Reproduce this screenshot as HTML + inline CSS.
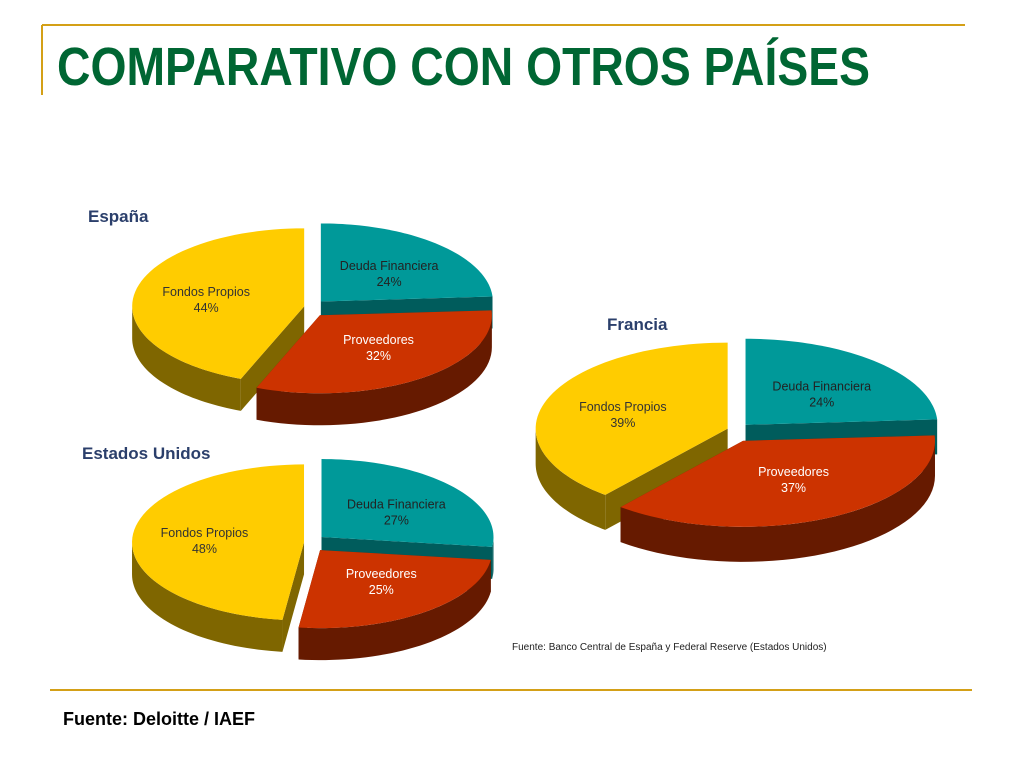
<!DOCTYPE html>
<html><head><meta charset="utf-8">
<style>
html,body{margin:0;padding:0;background:#fff;}
body{width:1024px;height:768px;overflow:hidden;font-family:"Liberation Sans",sans-serif;}
</style></head>
<body>
<svg width="1024" height="768" viewBox="0 0 1024 768">
  <line x1="42" y1="25" x2="965" y2="25" stroke="#d4a017" stroke-width="2"/>
  <line x1="42" y1="25" x2="42" y2="95" stroke="#d4a017" stroke-width="2"/>
  <text x="57" y="85" font-family="Liberation Sans, sans-serif" font-weight="bold" font-size="54" fill="#006633" textLength="813" lengthAdjust="spacingAndGlyphs">COMPARATIVO CON OTROS PAÍSES</text>
  <g id="charts"></g>
  <text x="88" y="222" font-size="17" font-weight="bold" fill="#2b3f6b">España</text>
  <text x="607" y="330" font-size="17" font-weight="bold" fill="#2b3f6b">Francia</text>
  <text x="82" y="459" font-size="17" font-weight="bold" fill="#2b3f6b">Estados Unidos</text>
  <text x="512" y="650" font-size="10" fill="#222">Fuente: Banco Central de España y Federal Reserve (Estados Unidos)</text>
  <line x1="50" y1="690" x2="972" y2="690" stroke="#d4a017" stroke-width="2"/>
  <text x="63" y="725" font-size="18" font-weight="bold" fill="#000">Fuente: Deloitte / IAEF</text>
</svg>
<script>
const sliceNames = ["Deuda Financiera","Proveedores","Fondos Propios"];
const espanaValues = [24,32,44];
const franciaValues = [24,37,39];
const eeuuValues = [27,25,48];

const topColors = ["#009999","#cc3300","#ffcc00"];
const sideColors = ["#005c5c","#661a00","#7f6600"];
const labelColors = ["#222","#fff","#333"];

const pies = [
  {name:"espana", values:espanaValues, cx:314, cy:308, rx:172, ry:78, depth:32, ex:10},
  {name:"francia", values:franciaValues, cx:738, cy:432, rx:192, ry:86, depth:35, ex:11},
  {name:"estados-unidos", values:eeuuValues, cx:314, cy:543, rx:172, ry:78, depth:32, ex:10}
];
const NS="http://www.w3.org/2000/svg";
const root=document.getElementById("charts");
function pt(p,a,dx,dy,dz){return [p.cx+dx+p.rx*Math.sin(a), p.cy+dy-p.ry*Math.cos(a)+dz];}
function mk(tag,attrs){const e=document.createElementNS(NS,tag);for(const k in attrs)e.setAttribute(k,attrs[k]);return e;}
pies.forEach(p=>{
  const g=mk("g",{});
  
  
  root.appendChild(g);
  const total=p.values.reduce((a,b)=>a+b,0);
  let start=0; const slices=[];
  p.values.forEach((v,i)=>{const a0=start/total*2*Math.PI;start+=v;const a1=start/total*2*Math.PI;slices.push({i,a0,a1,mid:(a0+a1)/2});});
  slices.sort((s,t)=>(-Math.cos(s.mid))-(-Math.cos(t.mid)));
  slices.forEach(s=>{
    const dx=p.ex*Math.sin(s.mid), dy=-p.ex*Math.cos(s.mid)*0.9;
    const sg=mk("g",{});
    
    
    g.appendChild(sg);
    const c=[p.cx+dx,p.cy+dy];
    // radial faces
    [s.a0,s.a1].forEach(a=>{
      const e=pt(p,a,dx,dy,0);
      sg.appendChild(mk("polygon",{points:`${c[0]},${c[1]} ${e[0]},${e[1]} ${e[0]},${e[1]+p.depth} ${c[0]},${c[1]+p.depth}`,fill:sideColors[s.i]}));
    });
    // outer wall on visible arc
    const lo=Math.max(s.a0,Math.PI/2), hi=Math.min(s.a1,3*Math.PI/2);
    if(hi>lo){
      let pts=[];const N=40;
      for(let k=0;k<=N;k++){const a=lo+(hi-lo)*k/N;pts.push(pt(p,a,dx,dy,0));}
      for(let k=N;k>=0;k--){const a=lo+(hi-lo)*k/N;pts.push(pt(p,a,dx,dy,p.depth));}
      sg.appendChild(mk("polygon",{points:pts.map(q=>q.join(",")).join(" "),fill:sideColors[s.i]}));
    }
    // top
    let tp=[c];const N=60;
    for(let k=0;k<=N;k++){const a=s.a0+(s.a1-s.a0)*k/N;tp.push(pt(p,a,dx,dy,0));}
    sg.appendChild(mk("polygon",{points:tp.map(q=>q.join(",")).join(" "),fill:topColors[s.i]}));
    // label
    const lp=[c[0]+p.rx*0.58*Math.sin(s.mid), c[1]-p.ry*0.5*Math.cos(s.mid)];
    const t1=mk("text",{x:lp[0],y:lp[1]-3,"text-anchor":"middle","font-size":"12.5",fill:labelColors[s.i]});
    t1.textContent=sliceNames[s.i];
    
    
    const t2=mk("text",{x:lp[0],y:lp[1]+13,"text-anchor":"middle","font-size":"12.5",fill:labelColors[s.i]});
    t2.textContent=p.values[s.i]+"%";
    
    
    sg.appendChild(t1);sg.appendChild(t2);
  });
});
</script>
</body></html>
